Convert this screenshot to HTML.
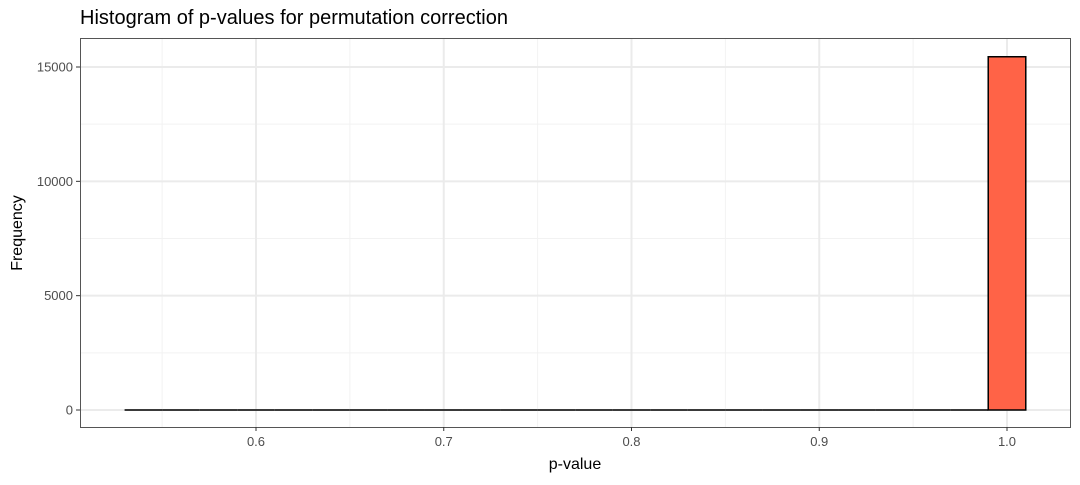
<!DOCTYPE html>
<html><head><meta charset="utf-8"><style>
body{margin:0;background:#fff;font-family:"Liberation Sans",sans-serif;}
</style></head><body>
<svg id="chart" width="1080" height="480">
<text x="80" y="24" font-size="20" fill="#000">Histogram of p-values for permutation correction</text>
<g id="grid"></g>
<g id="bars"></g>
<rect x="80.5" y="38.5" width="990" height="389" fill="none" stroke="#555" stroke-width="1"/>
<g id="axes"></g>
<text x="575" y="469" font-size="16" text-anchor="middle">p-value</text>
<text transform="translate(22,233) rotate(-90)" font-size="16" text-anchor="middle">Frequency</text>
</svg>
<script>
const binStarts=[0.53,0.55,0.57,0.59,0.61,0.63,0.65,0.67,0.69,0.71,0.73,0.75,0.77,0.79,0.81,0.83,0.85,0.87,0.89,0.91,0.93,0.95,0.97,0.99];
const counts=[0,0,0,0,0,0,0,0,0,0,0,0,0,0,0,0,0,0,0,0,0,0,0,15450];
const binWidth=0.02;
const xTicks=[0.6,0.7,0.8,0.9,1.0];
const xTickLabels=["0.6","0.7","0.8","0.9","1.0"];
const xMinor=[0.55,0.65,0.75,0.85,0.95];
const yTicks=[0,5000,10000,15000];
const yMinor=[2500,7500,12500];
const NS="http://www.w3.org/2000/svg";
const L=80,R=1070,T=38,B=427;
function sx(v){return 256+(v-0.6)*1877.5;}
function sy(v){return 410-v*343/15000;}
function mk(tag,attrs,parent){const e=document.createElementNS(NS,tag);for(const k in attrs)e.setAttribute(k,attrs[k]);parent.appendChild(e);return e;}
const grid=document.getElementById('grid'),bars=document.getElementById('bars'),axes=document.getElementById('axes');
xMinor.forEach(v=>{const l=mk('line',{x1:sx(v),x2:sx(v),y1:T,y2:B,stroke:'#f2f2f2','stroke-width':1},grid);

});
yMinor.forEach(v=>{const l=mk('line',{x1:L,x2:R,y1:sy(v),y2:sy(v),stroke:'#f2f2f2','stroke-width':1},grid);

});
xTicks.forEach((v,i)=>{const l=mk('line',{x1:sx(v),x2:sx(v),y1:T,y2:B,stroke:'#ebebeb','stroke-width':2},grid);


const t=mk('line',{x1:sx(v),x2:sx(v),y1:B,y2:B+4,stroke:'#333','stroke-width':1},axes);


const tx=mk('text',{x:sx(v),y:B+19,'font-size':13,fill:'#4d4d4d','text-anchor':'middle'},axes);tx.textContent=xTickLabels[i];

});
yTicks.forEach(v=>{const l=mk('line',{x1:L,x2:R,y1:sy(v),y2:sy(v),stroke:'#ebebeb','stroke-width':2},grid);


const t=mk('line',{x1:L-4,x2:L,y1:sy(v),y2:sy(v),stroke:'#333','stroke-width':1},axes);


const tx=mk('text',{x:L-7,y:sy(v)+4.5,'font-size':13,fill:'#4d4d4d','text-anchor':'end'},axes);tx.textContent=String(v);

});
binStarts.forEach((s,i)=>{const x0=sx(s),x1=sx(s+binWidth),y=sy(counts[i]),y0=sy(0);
const p=mk('path',{d:`M${x0},${y0}V${y}H${x1}V${y0}Z`,fill:'#ff6347',stroke:'#000','stroke-width':1.5},bars);

});
</script>
</body></html>
